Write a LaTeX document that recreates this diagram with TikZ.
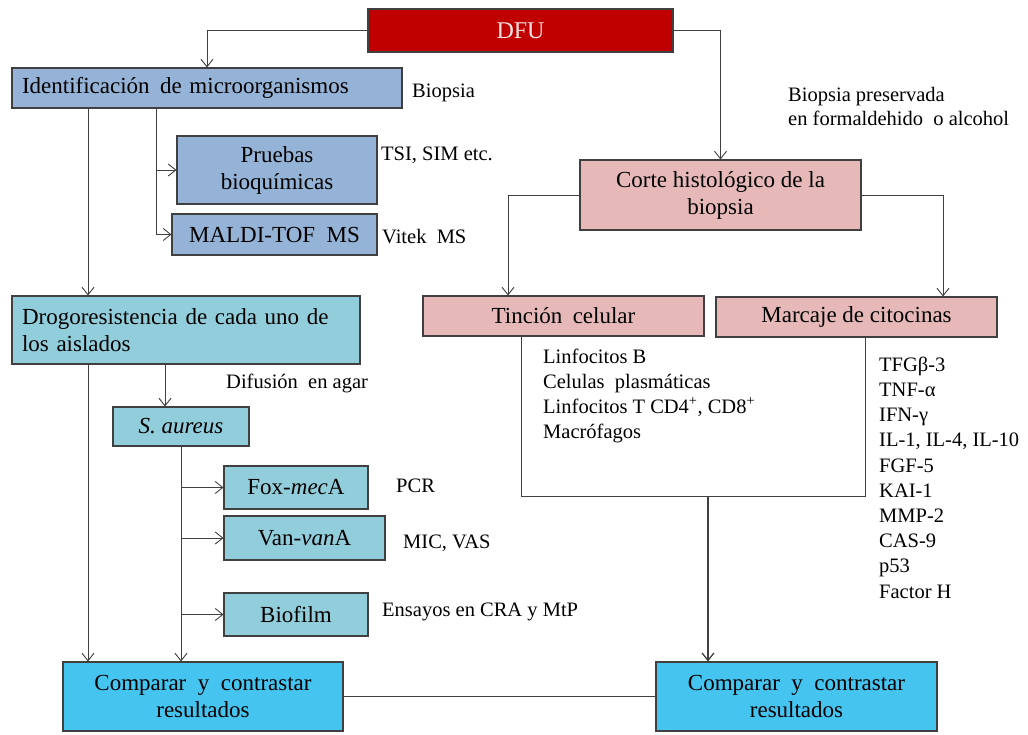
\documentclass[tikz,border=0pt]{standalone}
\usepackage{fontspec}
\setmainfont{Liberation Serif}
\usetikzlibrary{arrows.meta}
\definecolor{dfured}{HTML}{C00000}
\definecolor{dfutext}{HTML}{FBE3E3}
\definecolor{steel}{HTML}{95B3D7}
\definecolor{aqua}{HTML}{92CDDC}
\definecolor{rose}{HTML}{E6B9B8}
\definecolor{sky}{HTML}{46C4F0}
\definecolor{ink}{HTML}{404040}
\begin{document}
\begin{tikzpicture}[x=1pt,y=-1pt,
  box/.style={draw=ink, line width=1.1pt, inner sep=0pt, font=\fontsize{23}{27}\selectfont, align=center},
  lab/.style={inner sep=0pt, anchor=west, font=\fontsize{20.5}{23.5}\selectfont, align=left},
  arr/.style={draw=ink, line width=0.9pt, -{Straight Barb[length=7.5pt,width=12pt]}},
  ln/.style={draw=ink, line width=0.9pt}]
\useasboundingbox (0,0) rectangle (1028,734);
% column coordinates
\coordinate (c88) at (88,0);
\coordinate (c156) at (156,0);
\coordinate (c165) at (165,0);
\coordinate (c182) at (181,0);
\coordinate (c508) at (508,0);
\coordinate (c943) at (943,0);
\coordinate (c521) at (521,0);
\coordinate (c865) at (865,0);
\coordinate (c708) at (708,0);
\coordinate (r496) at (0,496);
% boxes
\node[box, fill=dfured, text=dfutext, minimum width=305pt, minimum height=43pt, font=\fontsize{24}{28}\selectfont] (dfu) at (520.5,30.5) {DFU};
\node[box, fill=steel, minimum height=40pt, text width=370pt, inner xsep=10pt, align=left] (ident) at (207,88) {Identificación\hspace{0.45em}de microorganismos};
\node[box, fill=steel, minimum width=200pt, minimum height=68pt] (pruebas) at (277,170) {Pruebas\\bioquímicas};
\node[box, fill=steel, minimum width=205pt, minimum height=41pt] (maldi) at (274.5,234.5) {MALDI-TOF\ \ MS};
\node[box, fill=rose, minimum width=281pt, minimum height=70pt] (corte) at (720.5,195) {Corte histológico de la\\biopsia};
\node[box, fill=aqua, minimum height=68pt, text width=328pt, inner xsep=10pt, align=left] (drog) at (186,330) {\makebox[328pt][s]{Drogoresistencia de cada uno de}\\los aislados};
\node[box, fill=rose, minimum width=281pt, minimum height=40pt] (tincion) at (563.5,316) {Tinción\hspace{0.45em}celular};
\node[box, fill=rose, minimum width=281pt, minimum height=40pt] (marcaje) at (856.5,317) {Marcaje de citocinas};
\node[box, fill=aqua, minimum width=136pt, minimum height=39pt] (saureus) at (181,426.5) {\textit{S. aureus}};
\node[box, fill=aqua, minimum width=144pt, minimum height=43pt] (fox) at (296,487.5) {Fox-\textit{mec}A};
\node[box, fill=aqua, minimum width=161pt, minimum height=44pt] (van) at (304.5,538) {Van-\textit{van}A};
\node[box, fill=aqua, minimum width=144pt, minimum height=43pt] (biofilm) at (296,614.5) {Biofilm};
\node[box, fill=sky, minimum width=280pt, minimum height=69pt] (compL) at (203,696.5) {Comparar\ \ y\ \ contrastar\\resultados};
\node[box, fill=sky, minimum width=281pt, minimum height=69pt] (compR) at (796.5,696.5) {Comparar\ \ y\ \ contrastar\\resultados};
% labels
\node[lab] (l1) at (412,93) {Biopsia};
\node[lab] (l2) at (381,155) {TSI, SIM etc.};
\node[lab] (l3) at (382,237) {Vitek\ \ MS};
\node[lab] (l4) at (788,106.5) {Biopsia preservada\\en formaldehido\ \ o alcohol};
\node[lab] (l5) at (226,383) {Difusión\ \ en agar};
\node[lab] (l6) at (396,486) {PCR};
\node[lab] (l7) at (403,543) {MIC, VAS};
\node[lab] (l8) at (382,612) {Ensayos en CRA y MtP};
\node[lab, font=\fontsize{20.5}{25}\selectfont] (l9) at (543,395.5) {Linfocitos B\\Celulas\ \ plasmáticas\\Linfocitos T CD4\textsuperscript{+}, CD8\textsuperscript{+}\\Macrófagos};
\node[lab, font=\fontsize{20.5}{25.2}\selectfont] (l10) at (879,477.5) {TFGβ-3\\TNF-α\\IFN-γ\\IL-1, IL-4, IL-10\\FGF-5\\KAI-1\\MMP-2\\CAS-9\\p53\\Factor H};
% connectors
\draw[arr] (dfu.west) -| (ident.north);
\draw[arr] (dfu.east) -| (corte.north);
\draw[arr] (ident.south -| c88) -- (drog.north -| c88);
\draw[arr] (ident.south -| c156) |- (pruebas.west);
\draw[arr] (ident.south -| c156) |- (maldi.west);
\draw[arr] (corte.west) -| (c508 |- tincion.north);
\draw[arr] (corte.east) -| (c943 |- marcaje.north);
\draw[arr] (drog.south -| c88) -- (compL.north -| c88);
\draw[arr] (drog.south -| c165) -- (saureus.north -| c165);
\draw[arr] (saureus.south -| c182) -- (compL.north -| c182);
\draw[arr] (c182 |- fox.west) -- (fox.west);
\draw[arr] (c182 |- van.west) -- (van.west);
\draw[arr] (c182 |- biofilm.west) -- (biofilm.west);
\draw[ln] (tincion.south -| c521) -- (c521 |- r496) -- (c865 |- r496) -- (marcaje.south -| c865);
\draw[arr, line width=1.3pt] (c708 |- r496) -- (compR.north -| c708);
\draw[ln] (compL.east) -- (compR.west);
\end{tikzpicture}
\end{document}
